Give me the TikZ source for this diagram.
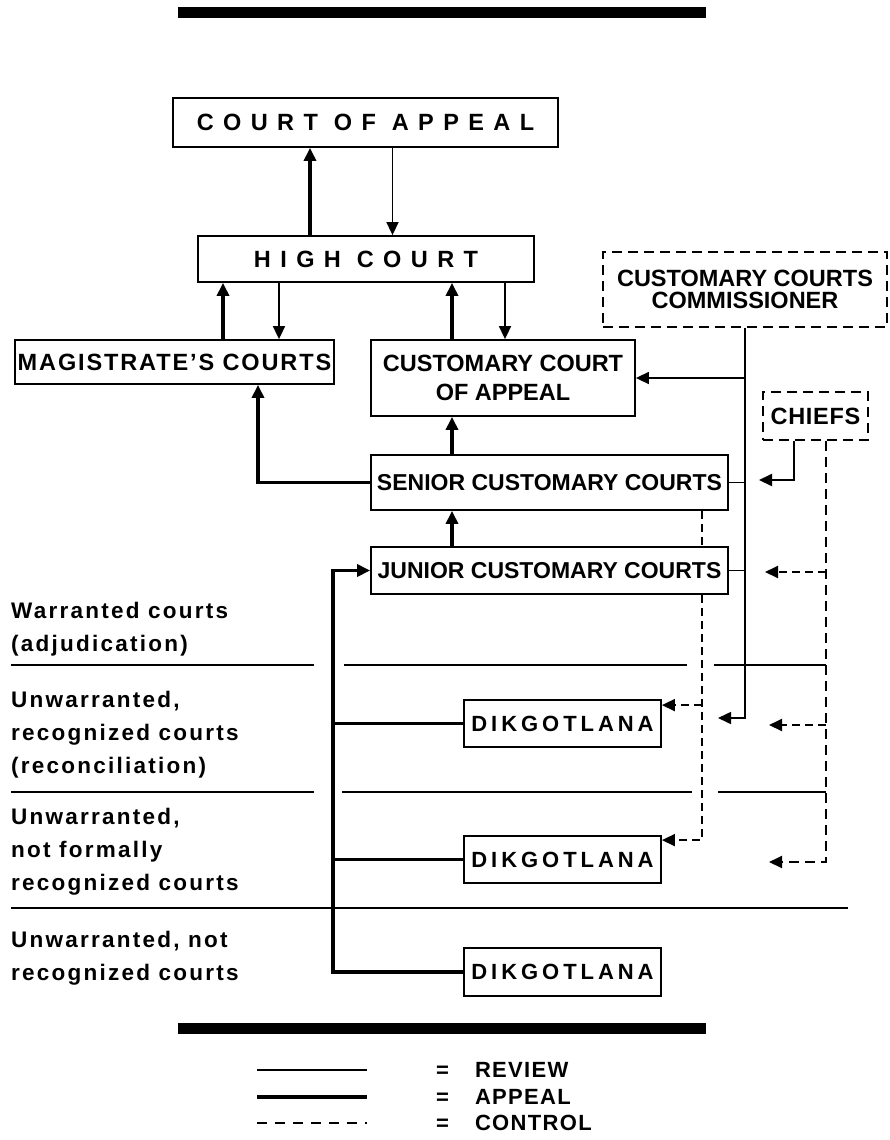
\documentclass[tikz,border=0pt]{standalone}
\usepackage{fontspec}
\setmainfont{Liberation Sans}
\usetikzlibrary{arrows.meta}

\newcommand{\wide}[2]{{\addfontfeature{LetterSpace=#1}#2}}

\tikzset{
  court/.style={draw, line width=1.8pt, inner sep=0pt, align=center,
    font={\bfseries\fontsize{23.5}{29}\selectfont}},
  officer/.style={court, dash pattern=on 10pt off 6pt},
  band/.style={anchor=west, inner sep=0pt, align=left,
    font={\bfseries\fontsize{22.5}{33}\selectfont\addfontfeature{LetterSpace=10}}},
  review/.style={line width=1.6pt},
  appeal/.style={line width=3.5pt},
  control/.style={line width=1.6pt, dash pattern=on 8pt off 5pt},
  tip/.style={-{Triangle[length=13pt,width=12pt]}},
}

\begin{document}
\begin{tikzpicture}[x=1pt, y=-1pt]
  \useasboundingbox (0,0) rectangle (889,1140);

  \fill (178,7) rectangle (706,18);
  \fill (178,1023) rectangle (706,1034);

  \node[court, minimum width=385pt, minimum height=49pt] (coa) at (365.5,122.5) {\wide{40}{COURT OF APPEAL}};
  \node[court, minimum width=336pt, minimum height=46pt] (hc) at (366,259) {\wide{40}{HIGH COURT}};
  \node[court, minimum width=319pt, minimum height=44pt] (mc) at (174.5,362) {\wide{8}{MAGISTRATE’S COURTS}};
  \node[court, minimum width=264pt, minimum height=76pt] (cca) at (503,378) {CUSTOMARY COURT\\OF APPEAL};
  \node[officer, minimum width=284pt, minimum height=75pt, font={\bfseries\fontsize{23.5}{22}\selectfont}] (comm) at (745,289.5) {CUSTOMARY COURTS\\COMMISSIONER};
  \node[officer, minimum width=105pt, minimum height=48pt] (chiefs) at (815.5,416) {\wide{3}{CHIEFS}};
  \node[court, minimum width=357pt, minimum height=55pt, font={\bfseries\fontsize{23}{29}\selectfont}] (senior) at (549.5,482.5) {SENIOR CUSTOMARY COURTS};
  \node[court, minimum width=357pt, minimum height=47pt, font={\bfseries\fontsize{23}{29}\selectfont}] (junior) at (549.5,570.5) {JUNIOR CUSTOMARY COURTS};
  \node[court, minimum width=197pt, minimum height=47pt, font={\bfseries\fontsize{22}{29}\selectfont}] (dik1) at (562.5,723.5) {\wide{18}{DIKGOTLANA}};
  \node[court, minimum width=197pt, minimum height=47pt, font={\bfseries\fontsize{22}{29}\selectfont}] (dik2) at (562.5,859.5) {\wide{18}{DIKGOTLANA}};
  \node[court, minimum width=197pt, minimum height=48pt, font={\bfseries\fontsize{22}{29}\selectfont}] (dik3) at (562.5,972) {\wide{18}{DIKGOTLANA}};

  \node[band] (warr) at (11,629.5) {Warranted courts\\(adjudication)};
  \node[band] (recog) at (11,735) {Unwarranted,\\recognized courts\\(reconciliation)};
  \node[band] (formal) at (11,852) {Unwarranted,\\not formally\\recognized courts};
  \node[band] (unrec) at (11,958.5) {Unwarranted, not\\recognized courts};

  % band separators
  \draw[review] (11,665) -- (314,665) (344,665) -- (687,665) (714,665) -- (826,665);
  \draw[review] (11,792) -- (314,792) (342,792) -- (692,792) (718,792) -- (826,792);
  \draw[review] (11,908) -- (848,908);

  % appeal
  \draw[appeal, tip] ([xshift=-56pt]hc.north) -- ([xshift=-56pt]hc.north |- coa.south);
  \draw[appeal, tip] ([xshift=48.5pt]mc.north) -- ([xshift=48.5pt]mc.north |- hc.south);
  \draw[appeal, tip] ([xshift=-51pt]cca.north) -- ([xshift=-51pt]cca.north |- hc.south);
  \draw[appeal, tip] ([xshift=-97.5pt]senior.north) -- ([xshift=-97.5pt]senior.north |- cca.south);
  \draw[appeal, tip] ([xshift=-97.5pt]junior.north) -- ([xshift=-97.5pt]junior.north |- senior.south);
  \draw[appeal, tip] (senior.west) -| ([xshift=83.5pt]mc.south);
  \coordinate (trunk) at (333,972);
  \draw[appeal, tip] (dik3.west) -- (trunk) |- (junior.west);
  \draw[appeal] (dik1.west) -- (dik1.west -| trunk);
  \draw[appeal] (dik2.west) -- (dik2.west -| trunk);

  % review
  \draw[review, tip] ([xshift=27pt]coa.south) -- ([xshift=27pt]coa.south |- hc.north);
  \draw[review, tip] ([xshift=104.5pt]mc.north |- hc.south) -- ([xshift=104.5pt]mc.north);
  \draw[review, tip] ([xshift=2pt]cca.north |- hc.south) -- ([xshift=2pt]cca.north);
  \coordinate (cdik) at (718,718);
  \draw[review, tip] (comm.south) |- (cdik);
  \draw[review, tip] (comm.south |- cca.east) -- (cca.east);
  \draw[review] (senior.east) -- (senior.east -| comm.south);
  \draw[review] (junior.east) -- (junior.east -| comm.south);
  \coordinate (chsen) at (759,480);
  \draw[review, line width=2pt, tip] ([xshift=-21.5pt]chiefs.south) |- (chsen);

  % control
  \draw[control] ([xshift=152.5pt]senior.south) -- ([xshift=152.5pt]junior.north);
  \coordinate (k1) at ([yshift=-6pt]dik1.north east);
  \coordinate (k2) at ([yshift=-5pt]dik2.north east);
  \draw[control, tip] ([xshift=152.5pt]junior.south) |- (k2);
  \draw[control, tip] ([xshift=152.5pt]junior.south |- k1) -- (k1);
  \coordinate (chx) at ([xshift=10.5pt]chiefs.south);
  \coordinate (chjun) at (765,572);
  \coordinate (chdik1) at (769,725);
  \coordinate (chdik2) at (769,862);
  \draw[control, line width=2pt, dash pattern=on 10pt off 6pt, tip] (chx) |- (chdik2);
  \draw[control, line width=2pt, tip] (chx |- chjun) -- (chjun);
  \draw[control, line width=2pt, tip] (chx |- chdik1) -- (chdik1);

  % legend
  \draw[review] (257,1070) -- (367,1070);
  \draw[appeal] (257,1097) -- (367,1097);
  \draw[control, dash pattern=on 10pt off 8pt] (257,1123) -- (367,1123);
  \node[anchor=west, inner sep=0pt, font={\bfseries\fontsize{22}{26}\selectfont}] (lrev) at (436,1070) {=\hspace{26pt}\wide{6}{REVIEW}};
  \node[anchor=west, inner sep=0pt, font={\bfseries\fontsize{22}{26}\selectfont}] (lapp) at (436,1097) {=\hspace{26pt}\wide{6}{APPEAL}};
  \node[anchor=west, inner sep=0pt, font={\bfseries\fontsize{22}{26}\selectfont}] (lcon) at (436,1123) {=\hspace{26pt}\wide{6}{CONTROL}};
\end{tikzpicture}
\end{document}
